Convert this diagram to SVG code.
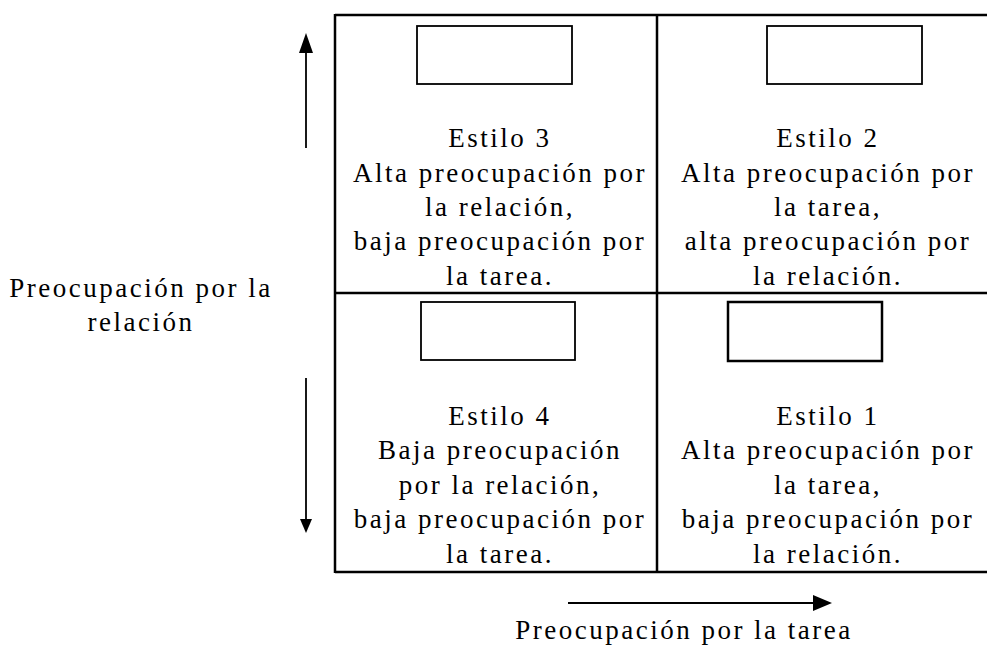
<svg xmlns="http://www.w3.org/2000/svg" width="987" height="646" viewBox="0 0 987 646">
<style>
text{font-family:"Liberation Serif","Times New Roman",serif;font-size:27px;fill:#000;letter-spacing:2.5px;text-anchor:middle}
.grid{stroke:#000;stroke-width:2.5;fill:none}
.box{stroke:#000;stroke-width:1.8;fill:#fff}
.arr{stroke:#000;stroke-width:1.8;fill:none}
</style>
<rect width="987" height="646" fill="#fff"/>
<g id="grid">
<line class="grid" x1="335" y1="15" x2="987" y2="15"/>
<line class="grid" x1="335" y1="293" x2="987" y2="293"/>
<line class="grid" x1="335" y1="572" x2="987" y2="572"/>
<line class="grid" x1="335" y1="14" x2="335" y2="573"/>
<line class="grid" x1="657" y1="14" x2="657" y2="573"/>
</g>
<g id="estilo3">
<rect class="box" x="417" y="26" width="155" height="58"/>
<text x="500" y="147">Estilo 3</text>
<text x="500" y="182">Alta preocupación por</text>
<text x="500" y="216">la relación,</text>
<text x="500" y="250">baja preocupación por</text>
<text x="500" y="285">la tarea.</text>
</g>
<g id="estilo2">
<rect class="box" x="767" y="26" width="155" height="58"/>
<text x="828" y="147">Estilo 2</text>
<text x="828" y="182">Alta preocupación por</text>
<text x="828" y="216">la tarea,</text>
<text x="828" y="250">alta preocupación por</text>
<text x="828" y="285">la relación.</text>
</g>
<g id="estilo4">
<rect class="box" x="421" y="302" width="154" height="58"/>
<text x="500" y="425">Estilo 4</text>
<text x="500" y="459">Baja preocupación</text>
<text x="500" y="494">por la relación,</text>
<text x="500" y="528">baja preocupación por</text>
<text x="500" y="563">la tarea.</text>
</g>
<g id="estilo1">
<rect class="box" x="728" y="302" width="154" height="59" style="stroke-width:2.5"/>
<text x="828" y="425">Estilo 1</text>
<text x="828" y="459">Alta preocupación por</text>
<text x="828" y="494">la tarea,</text>
<text x="828" y="528">baja preocupación por</text>
<text x="828" y="563">la relación.</text>
</g>
<g id="label-relacion">
<text x="141" y="297">Preocupación por la</text>
<text x="141" y="331">relación</text>
</g>
<g id="label-tarea">
<text x="684" y="639">Preocupación por la tarea</text>
</g>
<g id="connectors">
<line class="arr" x1="306" y1="148" x2="306" y2="52"/>
<polygon points="306,33 299,53 313,53" fill="#000"/>
<line class="arr" x1="306" y1="378" x2="306" y2="520"/>
<polygon points="306,533 300,519 312,519" fill="#000"/>
<line class="arr" x1="568" y1="603" x2="814" y2="603"/>
<polygon points="832,603 813,595 813,611" fill="#000"/>
</g>
</svg>
